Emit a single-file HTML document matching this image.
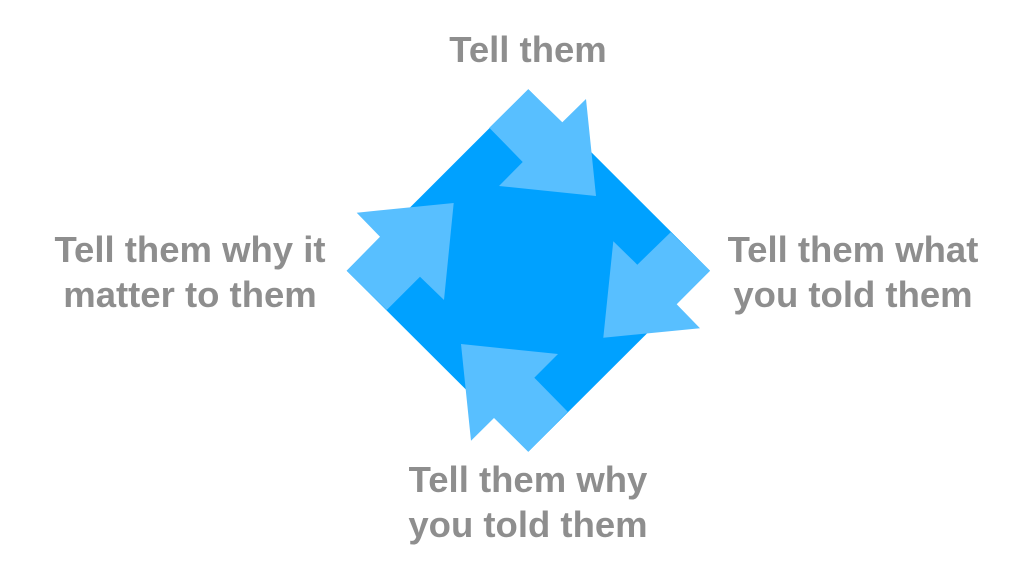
<!DOCTYPE html>
<html><head><style>
body{margin:0;width:1032px;height:585px;background:#fff;overflow:hidden;position:relative;font-family:"Liberation Sans",Arial,sans-serif;}
.t{position:absolute;color:#8e8e8e;font-weight:bold;font-size:36.5px;line-height:45px;text-align:center;white-space:nowrap;}
</style></head><body>
<svg width="1032" height="585" style="position:absolute;left:0;top:0">
<polygon points="528.3,89.3 710,270.7 528.3,451.7 346.7,270.7" fill="#00a1ff"/>
<g fill="#58bfff">
<polygon points="528.3,89.3 562.3,122.3 586,99 596,196 499,186 522.7,162 489.3,127.7"/>
<polygon points="670.7,232.3 710,270.7 676.7,304.3 700,328.3 603.3,337.7 613.3,241.3 637.3,264.7"/>
<polygon points="528.3,451.7 494,418 471,440.7 461,344 558,354 534.3,377.7 567.7,411.7"/>
<polygon points="346.7,270.7 380,236.7 356.7,212.7 453.7,203 444,300 420,276.7 386.7,310"/>
</g>
</svg>
<div class="t" style="left:328px;width:400px;top:27px">Tell them</div>
<div class="t" style="left:703px;width:300px;top:227px">Tell them what<br>you told them</div>
<div class="t" style="left:20px;width:340px;top:227px">Tell them why it<br>matter to them</div>
<div class="t" style="left:328px;width:400px;top:457px">Tell them why<br>you told them</div>
</body></html>
